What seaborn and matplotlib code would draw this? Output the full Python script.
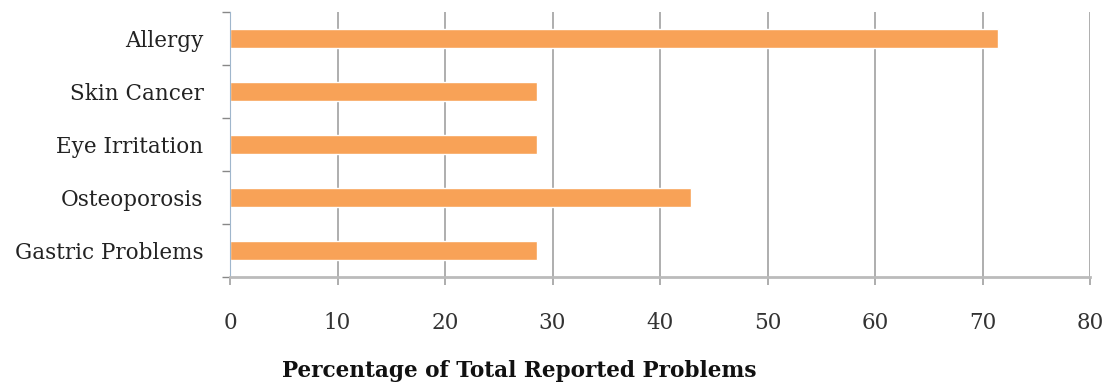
import numpy as np
import pandas as pd
import matplotlib
matplotlib.use("Agg")
import matplotlib.pyplot as plt
import seaborn as sns

# data
problems = ["Allergy", "Skin Cancer", "Eye Irritation", "Osteoporosis", "Gastric Problems"]
percent = [71.4, 28.6, 28.6, 42.9, 28.6]
x_ticks = [0, 10, 20, 30, 40, 50, 60, 70, 80]

df = pd.DataFrame({"problem": problems, "percent": percent})

sns.set_style("white")
plt.rcParams["font.family"] = ["DejaVu Serif"]

fig = plt.figure(figsize=(11.09, 3.88), dpi=100)
ax = fig.add_axes([0.2074, 0.2861, 0.7755, 0.6829])

sns.barplot(data=df, y="problem", x="percent", color="#F8A257", width=0.36,
            saturation=1, ax=ax)

ax.set_xlim(0, 80)
ax.set_ylim(4.5, -0.5)
ax.set_xticks(x_ticks)
ax.set_xticklabels([str(t) for t in x_ticks], fontsize=15.5, color="#333333")
ax.tick_params(axis="x", bottom=True, length=6, color="#A0A0A0", width=1.2, pad=19)
ax.tick_params(axis="y", which="major", left=False, length=0, pad=19, labelsize=15.5,
               labelcolor="#222222")
ax.set_yticks(np.arange(-0.5, 5, 1), minor=True)
ax.tick_params(axis="y", which="minor", left=True, length=6, color="#888888", width=1)
ax.xaxis.grid(True, color="#A8A8A8", linewidth=1.3)
ax.set_axisbelow(True)

for s in ["top", "right"]:
    ax.spines[s].set_visible(False)
ax.spines["left"].set_color("#9FB6CC")
ax.spines["bottom"].set_color("#BBBBBB")
ax.spines["bottom"].set_linewidth(2)

ax.set_ylabel("")
ax.set_xlabel("Percentage of Total Reported Problems", fontsize=15.6, fontweight="bold",
              color="#111111")
ax.xaxis.set_label_coords(0.336, -0.315)

fig.savefig("out.png", dpi=100)
